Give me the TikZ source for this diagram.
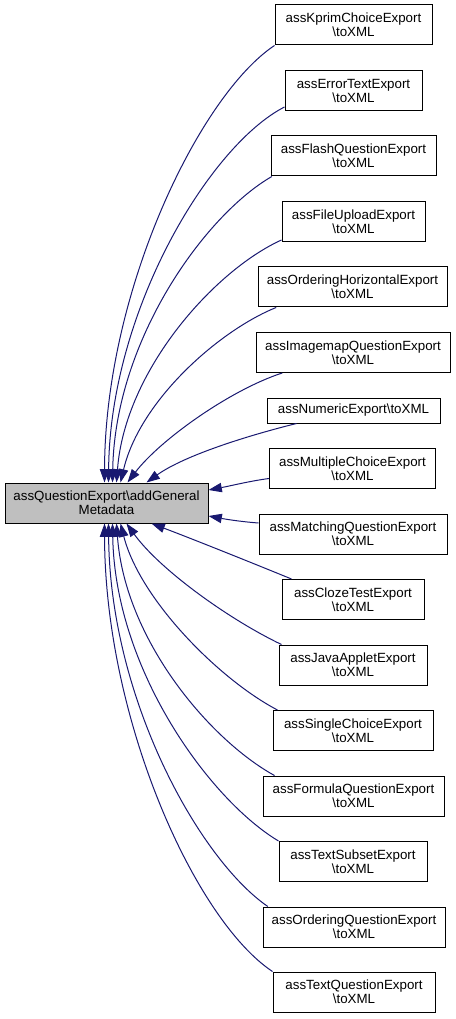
\documentclass[tikz,border=0pt]{standalone}
\usepackage{fontspec}
\setmainfont{Liberation Sans}
\usetikzlibrary{arrows.meta}
\definecolor{edgeblue}{HTML}{191970}
\definecolor{maingray}{HTML}{BFBFBF}
\tikzset{
  box/.style={draw=black, line width=0.75pt, fill=white, inner sep=0pt, align=center,
    minimum height=30pt, font=\fontsize{10}{10.5}\selectfont},
  mainbox/.style={box, fill=maingray},
  onebox/.style={box, minimum height=18.75pt},
  edge/.style={draw=edgeblue, line width=0.75pt, {Triangle[length=10pt,width=7pt]}-},
}
\newcommand{\bs}{\textbackslash}
\begin{document}
\begin{tikzpicture}[x=0.75pt,y=-0.75pt]
\useasboundingbox (0,0) rectangle (456,1019);
\node[mainbox, minimum width=152.25pt] (main) at (106.5,503) {assQuestionExport\bs addGeneral\\Metadata};
\node[box, minimum width=117.75pt] (kprim) at (353.5,25) {assKprimChoiceExport\\\bs toXML};
\node[box, minimum width=102.75pt] (err) at (353.5,90.5) {assErrorTextExport\\\bs toXML};
\node[box, minimum width=123.75pt] (flash) at (353.5,156) {assFlashQuestionExport\\\bs toXML};
\node[box, minimum width=107.25pt] (upload) at (353.5,221.5) {assFileUploadExport\\\bs toXML};
\node[box, minimum width=141.75pt] (ordh) at (352.5,287) {assOrderingHorizontalExport\\\bs toXML};
\node[box, minimum width=145.5pt] (imap) at (353,352.5) {assImagemapQuestionExport\\\bs toXML};
\node[onebox, minimum width=129.75pt] (num) at (353.5,410.5) {assNumericExport\bs toXML};
\node[box, minimum width=124.5pt] (mc) at (352.5,468.5) {assMultipleChoiceExport\\\bs toXML};
\node[box, minimum width=141pt] (match) at (353,534) {assMatchingQuestionExport\\\bs toXML};
\node[box, minimum width=106.5pt] (cloze) at (353,599.5) {assClozeTestExport\\\bs toXML};
\node[box, minimum width=111pt] (java) at (353,665) {assJavaAppletExport\\\bs toXML};
\node[box, minimum width=120pt] (single) at (353,730.5) {assSingleChoiceExport\\\bs toXML};
\node[box, minimum width=135.75pt] (formula) at (353.5,796) {assFormulaQuestionExport\\\bs toXML};
\node[box, minimum width=111pt] (subset) at (353,861.5) {assTextSubsetExport\\\bs toXML};
\node[box, minimum width=136.5pt] (ordq) at (354,927) {assOrderingQuestionExport\\\bs toXML};
\node[box, minimum width=121.5pt] (textq) at (354,992) {assTextQuestionExport\\\bs toXML};
% top edges
\draw[edge] ([xshift=75pt]main.north west) .. controls (105,290) and (200,95) .. (kprim.south west);
\draw[edge] ([xshift=78pt]main.north west) .. controls (110,310) and (210,145) .. ([yshift=3pt]err.south west);
\draw[edge] ([xshift=81pt]main.north west) .. controls (115,340) and (205,215) .. ([xshift=1pt]flash.south west);
\draw[edge] ([xshift=84pt]main.north west) .. controls (125,370) and (215,270) .. ([yshift=1.5pt]upload.south west);
\draw[edge] ([xshift=87pt]main.north west) .. controls (140,400) and (220,330) .. ([xshift=14pt]ordh.south west);
\draw[edge] ([xshift=92.25pt]main.north west) .. controls (160,440) and (230,390) .. ([xshift=20pt]imap.south west);
\draw[edge] ([xshift=106.5pt]main.north west) .. controls (185,455) and (250,435) .. ([xshift=22.5pt]num.south west);
% side edges
\draw[edge] ([yshift=9.75pt]main.east) .. controls (230,486) and (250,481) .. ([yshift=-7.5pt]mc.west);
\draw[edge] ([yshift=-9.75pt]main.east) .. controls (230,520) and (245,522) .. ([yshift=8.25pt]match.west);
% bottom edges
\draw[edge] ([xshift=110.25pt]main.south west) .. controls (190,538) and (250,562) .. ([xshift=7.5pt]cloze.north west);
\draw[edge] ([xshift=91.5pt]main.south west) .. controls (160,570) and (230,620) .. ([xshift=2.25pt]java.north west);
\draw[edge] ([xshift=87pt]main.south west) .. controls (140,600) and (220,680) .. ([xshift=3.75pt]single.north west);
\draw[edge] ([xshift=84pt]main.south west) .. controls (125,640) and (210,740) .. ([xshift=9pt]formula.north west);
\draw[edge] ([xshift=81pt]main.south west) .. controls (115,670) and (210,800) .. (subset.north west);
\draw[edge] ([xshift=78pt]main.south west) .. controls (110,700) and (200,860) .. ([xshift=4pt]ordq.north west);
\draw[edge] ([xshift=75pt]main.south west) .. controls (105,720) and (195,920) .. (textq.north west);
\end{tikzpicture}
\end{document}
